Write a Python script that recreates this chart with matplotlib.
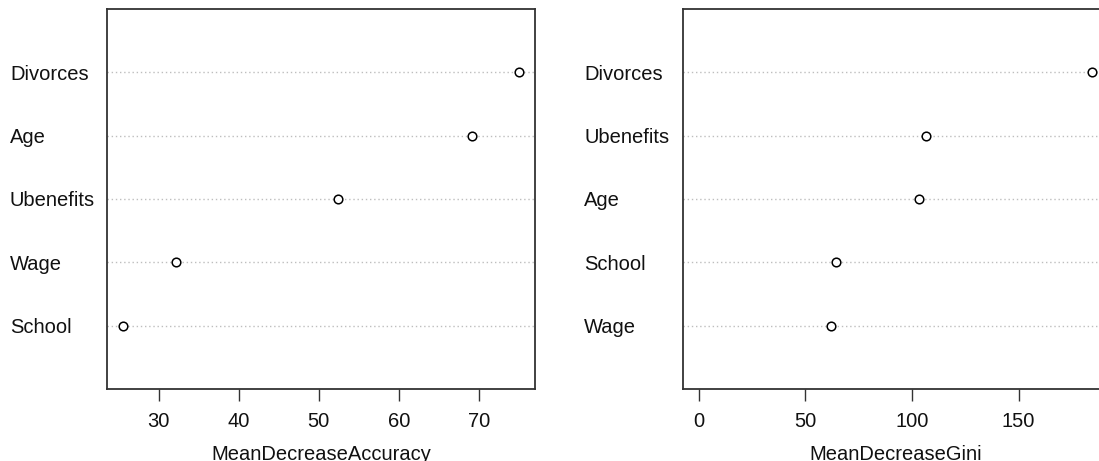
import matplotlib.pyplot as plt

# Variable importance from the random forest
acc_vars = ["School", "Wage", "Ubenefits", "Age", "Divorces"]
acc_vals = [25.5, 32.2, 52.4, 69.15, 75.05]

gini_vars = ["Wage", "School", "Age", "Ubenefits", "Divorces"]
gini_vals = [62.1, 64.5, 103.5, 106.6, 184.6]

plt.rcParams["font.family"] = ["Liberation Sans", "DejaVu Sans"]

fig = plt.figure(figsize=(10.99, 4.61), dpi=100)

W, H = 1099.0, 461.0
bottom = 1 - 389 / H
height = (389 - 9) / H
ax1 = fig.add_axes([107 / W, bottom, 428 / W, height])
ax2 = fig.add_axes([683 / W, bottom, 425 / W, height])


def dot_panel(ax, names, vals, xlim, ticks, xlabel, label_pad):
    ypos = list(range(1, len(names) + 1))
    for y in ypos:
        ax.axhline(y, color="#bebebe", linestyle=(0, (1, 2)), linewidth=1, zorder=1)
    ax.plot(vals, ypos, "o", markerfacecolor="white", markeredgecolor="black",
            markersize=6.2, markeredgewidth=1.1, linestyle="none", zorder=3)
    ax.set_xlim(*xlim)
    ax.set_ylim(0, len(names) + 1)
    ax.set_yticks(ypos)
    ax.set_yticklabels(names, fontsize=14.5, color="#111111")
    for lbl in ax.get_yticklabels():
        lbl.set_horizontalalignment("left")
    ax.tick_params(axis="y", length=0, pad=label_pad)
    ax.set_xticks(ticks)
    ax.set_xticklabels([str(t) for t in ticks], fontsize=14.5, color="#111111")
    ax.tick_params(axis="x", length=8.5, width=1, pad=8, color="#333333")
    ax.set_xlabel(xlabel, fontsize=14.5, color="#111111", labelpad=10)
    for s in ax.spines.values():
        s.set_linewidth(1.3)
        s.set_color("#333333")


lo, hi = min(acc_vals), max(acc_vals)
r = hi - lo
dot_panel(ax1, acc_vars, acc_vals, (lo - 0.04 * r, hi + 0.04 * r),
          [30, 40, 50, 60, 70], "MeanDecreaseAccuracy", (107 - 10) * 0.72)

hi = max(gini_vals)
dot_panel(ax2, gini_vars, gini_vals, (-0.04 * hi, hi * 1.04),
          [0, 50, 100, 150], "MeanDecreaseGini", (683 - 584) * 0.72)

fig.savefig("out.png", dpi=100)
